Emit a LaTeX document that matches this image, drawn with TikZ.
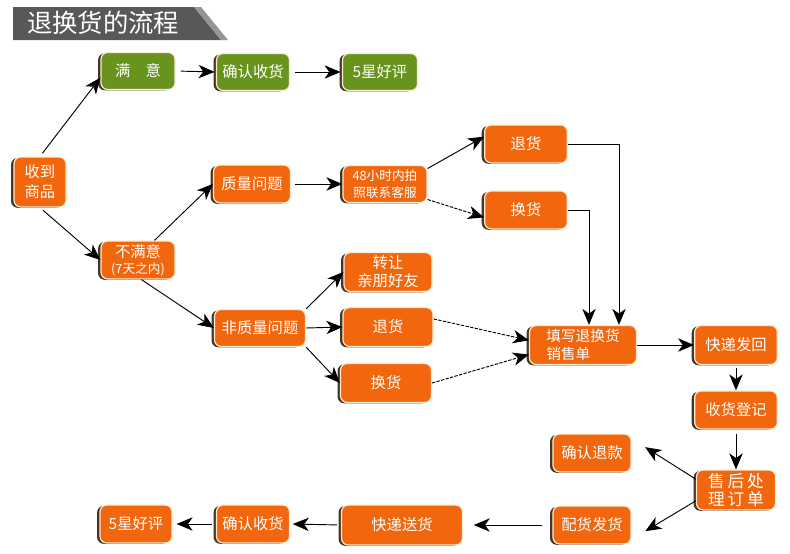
\documentclass[tikz,border=0pt]{standalone}
\usepackage{fontspec}
\newfontfamily\cjk{Noto Sans CJK SC}
\usetikzlibrary{arrows.meta,positioning,shadows}
\definecolor{stepOrange}{RGB}{242,103,14}
\definecolor{goodGreen}{RGB}{104,148,30}
\definecolor{rimCream}{RGB}{250,236,212}
\definecolor{shadowInk}{RGB}{70,52,36}
\definecolor{titleGray}{RGB}{88,88,88}
\definecolor{titleLight}{RGB}{150,150,150}
\colorlet{ink}{black}
\tikzset{
  arrow/.style={-{Stealth[length=12pt,width=10pt,inset=3.5pt]}, draw=ink, line width=0.7pt},
  dotarrow/.style={arrow, dash pattern=on 2.5pt off 1pt},
  stepbox/.style={
    rounded corners=5pt,
    draw=rimCream,
    fill=stepOrange,
    line width=0.9pt,
    minimum width=62pt,
    minimum height=28.5pt,
    inner sep=2pt,
    text=white,
    align=center,
    font=\cjk\fontsize{11.5}{15}\selectfont,
    general shadow={fill=shadowInk, shadow xshift=-2.2pt, shadow yshift=-0.6pt}
  },
  goodbox/.style={stepbox, fill=goodGreen, minimum width=55.5pt, minimum height=27.75pt},
  small/.style={font=\cjk\fontsize{9.5}{12.75}\selectfont}
}

\begin{document}
\begin{tikzpicture}[x=0.75pt,y=-0.75pt]
  \useasboundingbox (0,0) rectangle (790,554);

  % title banner
  \fill[titleGray] (13,7) -- (194,7) -- (221,40) -- (13,40) -- cycle;
  \fill[titleLight] (194,7) -- (201,7) -- (228,40) -- (221,40) -- cycle;
  \node[font=\cjk\fontsize{19}{19}\selectfont, text=white] (title) at (103,23) {退换货的流程};

  % satisfied branch
  \node[goodbox] (ok) at (138,71) {满\quad 意};
  \node[goodbox, minimum width=54.75pt] (okconfirm) at (253,72) {确认收货};
  \node[goodbox, minimum width=56.25pt] (okstar) at (380,72) {5星好评};

  \node[stepbox, minimum width=39pt, minimum height=37.5pt] (recv) at (40,182) {收到\\商品};
  \node[stepbox, minimum width=55.5pt] (unhappy) at (138,260) {不满意\\[-3pt]{\fontsize{9.5}{10}\selectfont(7天之内)}};

  % quality problem
  \node[stepbox, minimum width=57.75pt] (quality) at (252,184) {质量问题};
  \node[stepbox, small, minimum width=63pt, minimum height=27.75pt] (contact) at (385,184) {48小时内拍\\照联系客服};
  \node[stepbox] (refundA) at (526,144) {退货};
  \node[stepbox] (exchA) at (526,210) {换货};

  % other problem
  \node[stepbox, minimum width=68.25pt, minimum height=27.75pt] (nonq) at (260,328) {非质量问题};
  \node[stepbox, minimum width=66pt, minimum height=29.25pt, font=\cjk\fontsize{11.5}{13.5}\selectfont] (transfer) at (388,272) {转让\\亲朋好友};
  \node[stepbox, minimum width=67.5pt, minimum height=29.25pt] (refundB) at (388,327) {退货};
  \node[stepbox, minimum width=68.25pt, minimum height=29.25pt] (exchB) at (386,383) {换货};

  % after sales
  \node[stepbox, minimum width=80.25pt, minimum height=29.25pt, align=left, font=\cjk\fontsize{11}{13.5}\selectfont] (form) at (583,345) {填写退换货\\销售单};
  \node[stepbox, minimum height=29.25pt] (sendback) at (736,345) {快递发回};
  \node[stepbox] (register) at (736,410) {收货登记};
  \node[stepbox, minimum width=59.25pt, minimum height=30pt, font=\cjk\fontsize{12.5}{14}\selectfont] (service) at (736,490) {售\,后\,处\\理\,订\,单};
  \node[stepbox, minimum width=58.5pt] (refund) at (592,453) {确认退款};
  \node[stepbox, minimum width=58.5pt] (pack) at (592,525) {配货发货};
  \node[stepbox, minimum width=90.75pt, minimum height=30pt] (ship) at (402,525) {快递送货};
  \node[stepbox, minimum width=54.75pt] (confirm) at (253,524) {确认收货};
  \node[stepbox, minimum width=54pt] (star) at (136,524) {5星好评};

  \coordinate (dropA) at (619,0);
  \coordinate (dropB) at (589,0);

  \draw[arrow, shorten <=3pt] (recv.north) -- (ok.190);
  \draw[arrow, shorten <=3pt] (recv.south) -- (unhappy.west);
  \draw[arrow, shorten <=4pt, shorten >=1pt] (ok.east) -- (okconfirm.west);
  \draw[arrow, shorten <=4pt, shorten >=1pt] (okconfirm.east) -- (okstar.west);

  \draw[arrow] (unhappy.50) -- (quality.west);
  \draw[arrow] (unhappy.-80) -- (nonq.west);
  \draw[arrow, shorten <=3pt] (quality.east) -- (contact.west);
  \draw[arrow] (contact.20) -- (refundA.170);
  \draw[dotarrow] (contact.-20) -- (exchA.190);
  \draw[arrow] (refundA.east) -| (dropA |- form.north);
  \draw[arrow] (exchA.east) -| (dropB |- form.north);

  \draw[arrow] (nonq.north east) -- (transfer.west);
  \draw[arrow] (nonq.east) -- (refundB.west);
  \draw[arrow] (nonq.south east) -- (exchB.west);
  \draw[dotarrow] (refundB.10) -- (form.175);
  \draw[dotarrow] (exchB.east) -- (form.190);

  \draw[arrow] (form.east) -- (sendback.west);
  \draw[arrow, shorten <=2pt] (sendback.south) -- (register.north);
  \draw[arrow, shorten <=3pt] (register.south) -- (service.north);
  \draw[arrow, shorten >=12pt] (service.165) -- (refund.20);
  \draw[arrow, shorten >=12pt] (service.195) -- (pack.-20);
  \draw[arrow, shorten <=8pt, shorten >=8pt] (pack.west) -- (ship.east);
  \draw[arrow, shorten <=3pt, shorten >=2pt] (ship.west) -- (confirm.east);
  \draw[arrow, shorten <=3pt, shorten >=3pt] (confirm.west) -- (star.east);
\end{tikzpicture}
\end{document}
